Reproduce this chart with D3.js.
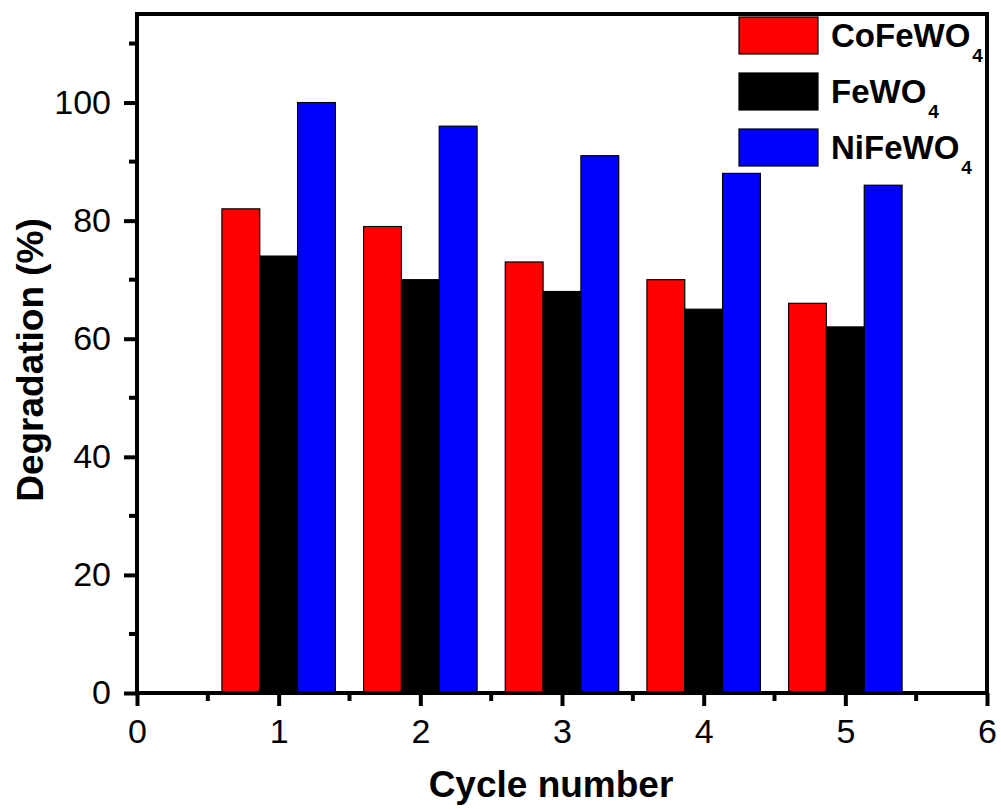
<!DOCTYPE html>
<html>
<head>
<meta charset="utf-8">
<script src="https://cdn.jsdelivr.net/npm/d3@7"></script>
<style>
  body { margin: 0; background: #fff; }
  text { font-family: "Liberation Sans", Arial, sans-serif; }
</style>
</head>
<body>
<div id="chart"></div>
<script>
const cycles = [1, 2, 3, 4, 5];
const seriesNames = ["CoFeWO", "FeWO", "NiFeWO"];
const seriesColors = ["#ff0000", "#000000", "#0000ff"];
const coFeWO4 = [82, 79, 73, 70, 66];
const feWO4 = [74, 70, 68, 65, 62];
const niFeWO4 = [100, 96, 91, 88, 86];
const xTicks = [0, 1, 2, 3, 4, 5, 6];
const yTicks = [0, 20, 40, 60, 80, 100];

const seriesValues = [coFeWO4, feWO4, niFeWO4];

const width = 1001;
const height = 809;
const margin = { top: 14, right: 14, bottom: 116, left: 137 };

const svg = d3.select("#chart")
  .append("svg")
  .attr("width", width)
  .attr("height", height);

const x = d3.scaleLinear().domain([0, 6]).range([margin.left, width - margin.right]);
const y = d3.scaleLinear().domain([0, 115]).range([height - margin.bottom, margin.top]);

const barW = 0.267; // in x units
const offsets = [-barW, 0, barW];

// bars
seriesValues.forEach((vals, i) => {
  svg.append("g")
    .selectAll("rect")
    .data(vals)
    .enter()
    .append("rect")
    .attr("x", (d, j) => x(cycles[j] + offsets[i] - barW / 2))
    .attr("y", (d) => y(d))
    .attr("width", x(barW) - x(0))
    .attr("height", (d) => y(0) - y(d))
    .attr("fill", seriesColors[i])
    .attr("stroke", "#000")
    .attr("stroke-width", 1.2);
});

// frame
svg.append("rect")
  .attr("x", x(0))
  .attr("y", y(115))
  .attr("width", x(6) - x(0))
  .attr("height", y(0) - y(115))
  .attr("fill", "none")
  .attr("stroke", "#000")
  .attr("stroke-width", 4);

// x axis
const xAxis = svg.append("g").attr("transform", `translate(0,${y(0)})`);
xAxis.call(d3.axisBottom(x).tickValues(xTicks).tickFormat(d3.format("d")).tickSize(13).tickPadding(13));
xAxis.select(".domain").remove();
xAxis.selectAll(".tick line").attr("stroke-width", 4);
xAxis.selectAll(".tick text").style("font-size", "34px").attr("fill", "#000");
const xMinor = d3.range(0.5, 6, 1);
xAxis.selectAll(".minor")
  .data(xMinor)
  .enter()
  .append("line")
  .attr("x1", (d) => x(d)).attr("x2", (d) => x(d))
  .attr("y1", 0).attr("y2", 8)
  .attr("stroke", "#000").attr("stroke-width", 4);

// y axis
const yAxis = svg.append("g").attr("transform", `translate(${x(0)},0)`);
yAxis.call(d3.axisLeft(y).tickValues(yTicks).tickSize(13).tickPadding(13));
yAxis.select(".domain").remove();
yAxis.selectAll(".tick line").attr("stroke-width", 4);
yAxis.selectAll(".tick text").style("font-size", "34px").attr("fill", "#000");
const yMinor = d3.range(10, 115, 20);
yAxis.selectAll(".minor")
  .data(yMinor)
  .enter()
  .append("line")
  .attr("x1", 0).attr("x2", -8)
  .attr("y1", (d) => y(d)).attr("y2", (d) => y(d))
  .attr("stroke", "#000").attr("stroke-width", 4);

// axis titles
svg.append("text")
  .attr("x", 551)
  .attr("y", 797)
  .attr("text-anchor", "middle")
  .style("font-size", "37px")
  .style("font-weight", "bold")
  .text("Cycle number");

svg.append("text")
  .attr("transform", "translate(43,360) rotate(-90)")
  .attr("text-anchor", "middle")
  .style("font-size", "37px")
  .style("font-weight", "bold")
  .text("Degradation (%)");

// legend
const legend = svg.append("g").attr("transform", "translate(739,17)");
seriesNames.forEach((name, i) => {
  const g = legend.append("g").attr("transform", `translate(0,${i * 56})`);
  g.append("rect")
    .attr("width", 79).attr("height", 37)
    .attr("fill", seriesColors[i])
    .attr("stroke", "#000").attr("stroke-width", 1.2);
  const t = g.append("text")
    .attr("x", 92).attr("y", 30)
    .style("font-size", "33px")
    .style("font-weight", "bold");
  t.append("tspan").text(name);
  t.append("tspan").attr("dx", 2).attr("dy", 15).style("font-size", "19px").text("4");
});
</script>
</body>
</html>
